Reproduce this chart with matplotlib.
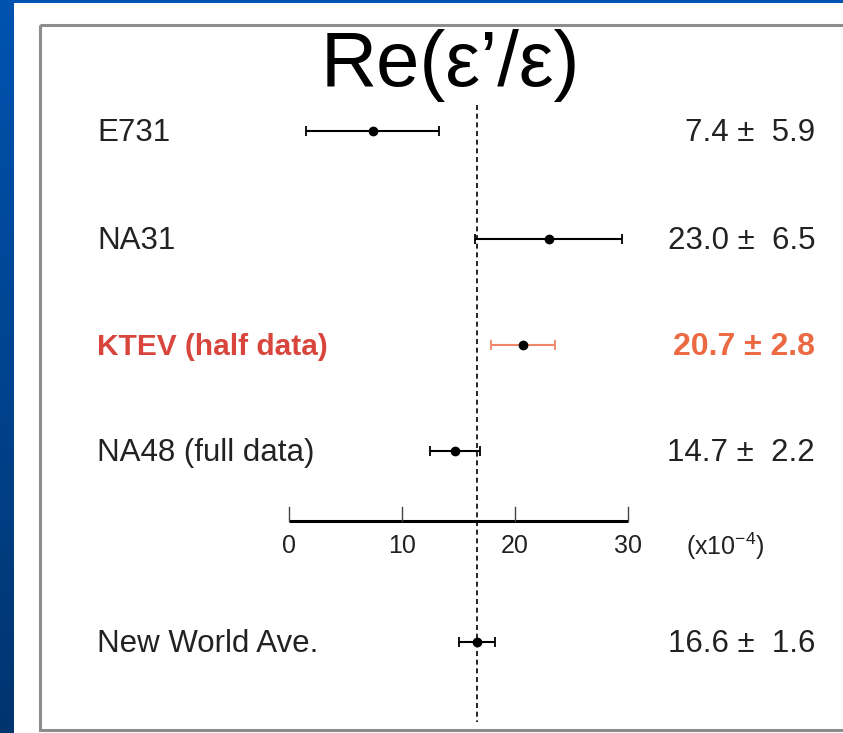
import numpy as np
import matplotlib
matplotlib.use("Agg")
import matplotlib.pyplot as plt
from matplotlib.patches import Rectangle
from matplotlib.colors import LinearSegmentedColormap

plt.rcParams['font.family'] = ['Liberation Sans', 'DejaVu Sans']
plt.rcParams['mathtext.fontset'] = 'custom'
plt.rcParams['mathtext.rm'] = 'Liberation Sans'

# ---- data ----
experiments = ["E731", "NA31", "KTEV (half data)", "NA48 (full data)", "New World Ave."]
values = [7.4, 23.0, 20.7, 14.7, 16.6]
errors = [5.9, 6.5, 2.8, 2.2, 1.6]
value_labels = ["7.4 \u00b1  5.9", "23.0 \u00b1  6.5", "20.7 \u00b1 2.8", "14.7 \u00b1  2.2", "16.6 \u00b1  1.6"]
highlight = [False, False, True, False, False]
axis_ticks = [0, 10, 20, 30]
world_ave = 16.6

# ---- layout (pixels) ----
W, H = 843, 733
x0_px, px_per_unit = 289.0, 11.3
row_y = [131, 239, 345, 451, 642]
axis_y = 521
text_dy = 2

fig = plt.figure(figsize=(W / 100, H / 100), dpi=100)
fig.patch.set_facecolor('white')

# left blue gradient strip
bax = fig.add_axes([0, 0, 14 / W, 1])
grad = np.linspace(0, 1, 256).reshape(-1, 1)
cmap = LinearSegmentedColormap.from_list('b', ['#0053b0', '#00346f'])
bax.imshow(grad, aspect='auto', cmap=cmap, extent=[0, 1, 0, 1], origin='upper')
bax.set_axis_off()
fig.add_artist(Rectangle((0, 1 - 2.5 / H), 1, 2.5 / H, transform=fig.transFigure,
                         facecolor='#0053b0', edgecolor='none'))

ax = fig.add_axes([14 / W, 0, 1 - 14 / W, 1 - 2.5 / H])
ax.set_facecolor('none')
left_px, right_px = 14, W
ax.set_xlim((left_px - x0_px) / px_per_unit, (right_px - x0_px) / px_per_unit)
ax.set_ylim(H, 2.5)
ax.set_axis_off()

def px(x):
    return (x - x0_px) / px_per_unit

# border
ax.add_patch(Rectangle((px(40), 25), px(W + 20) - px(40), 730 - 25, facecolor='none',
                       edgecolor='#8c8c8c', lw=2.2, clip_on=False))

# title
ax.text(px(450), 66, "Re(\u03b5\u2019/\u03b5)", fontsize=56, ha='center', va='center', color='black')

# world average dashed line
ax.plot([world_ave, world_ave], [105, 722], color='black', lw=1.2, dashes=(3, 2.2))

# measurements
for name, v, e, lab, hl, y in zip(experiments, values, errors, value_labels, highlight, row_y):
    ecol = '#ef8667' if hl else 'black'
    ax.errorbar([v], [y], xerr=[e], fmt='o', color='black', ecolor=ecol, elinewidth=1.5,
                capsize=3.8, capthick=1.3, markersize=6)
    if hl:
        ax.text(px(97), y + text_dy, name, fontsize=21.5, fontweight='bold', color='#d8453c', ha='left', va='center')
        ax.text(px(815), y + text_dy, lab, fontsize=23, fontweight='bold', color='#ec6a43', ha='right', va='center')
    else:
        ax.text(px(97), y + text_dy, name, fontsize=22.5, color='#222222', ha='left', va='center')
        ax.text(px(815), y + text_dy, lab, fontsize=22.5, color='#222222', ha='right', va='center')

# internal scale axis
ax.plot([axis_ticks[0], axis_ticks[-1]], [axis_y, axis_y], color='black', lw=2.2, solid_capstyle='butt')
for t in axis_ticks:
    ax.plot([t, t], [507, axis_y], color='#444444', lw=1.0)
    ax.text(t, 546, str(t), fontsize=18, ha='center', va='center', color='#222222')
ax.text(px(725), 546, r"(x10$^{\mathregular{-4}}$)", fontsize=18, ha='center', va='center', color='#222222')

fig.savefig('out.png', dpi=100)
